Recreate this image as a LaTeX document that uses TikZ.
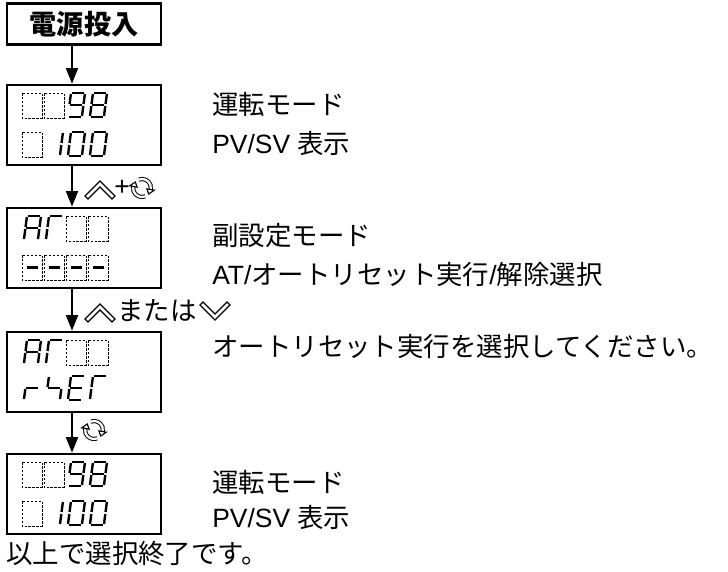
\documentclass[tikz,border=0pt]{standalone}
\usepackage{fontspec}
\setmainfont{Liberation Sans}
\newfontfamily\jp{Noto Sans CJK JP}
\usetikzlibrary{arrows.meta}

\newcommand{\segcell}[3]{%
  \begin{scope}[shift={(#1,#2)}, xslant=0.13]
    \coordinate (sa1) at (1,0);   \coordinate (sa2) at (13,0);
    \coordinate (sb1) at (14,1);  \coordinate (sb2) at (14,11);
    \coordinate (sc1) at (14,13); \coordinate (sc2) at (14,23);
    \coordinate (sd1) at (1,24);  \coordinate (sd2) at (13,24);
    \coordinate (se1) at (0,13);  \coordinate (se2) at (0,23);
    \coordinate (sf1) at (0,1);   \coordinate (sf2) at (0,11);
    \coordinate (sg1) at (1,12);  \coordinate (sg2) at (13,12);
    \foreach \s in {#3} {\draw[segline] (s\s1) -- (s\s2);}
  \end{scope}}
\newcommand{\blankcell}[2]{\draw[blank] (#1,#2) rectangle ++(20,25);}
\newcommand{\dashcell}[2]{\blankcell{#1}{#2}
  \draw[segline] (#1+4.5,#2+12.5) -- ++(11,0);}
\newcommand{\upkey}[2]{\draw[keyline] (#1-15,#2+6) -- (#1,#2-9) -- (#1+15,#2+6)
  -- (#1+12,#2+9) -- (#1,#2-3) -- (#1-12,#2+9) -- cycle;}
\newcommand{\downkey}[2]{\draw[keyline] (#1-15,#2-6) -- (#1,#2+9) -- (#1+15,#2-6)
  -- (#1+12,#2-9) -- (#1,#2+3) -- (#1-12,#2-9) -- cycle;}
\newcommand{\rotkey}[2]{%
  \draw[rotline] (#1,#2) ++(70:9) arc[start angle=70, end angle=192, radius=9];
  \draw[rotline] (#1,#2) ++(250:9) arc[start angle=250, end angle=372, radius=9];
  \draw[keyline] (#1,#2) +(190:5) -- +(190:12.5) -- +(222:9) -- cycle;
  \draw[keyline] (#1,#2) +(10:5) -- +(10:12.5) -- +(42:9) -- cycle;}

\begin{document}
\begin{tikzpicture}[x=0.025cm, y=-0.025cm,
          every node/.style={font=\fontsize{18.8}{22}\selectfont},
          panel/.style={draw, line width=1.9pt, minimum width=3.85cm, minimum height=2cm, inner sep=0pt},
          label/.style={anchor=west, inner sep=0pt},
          flow/.style={line width=1.3pt, -{Triangle[length=11pt, width=8.5pt]}},
          segline/.style={line width=1.7pt},
          blank/.style={line width=0.5pt, dash pattern=on 1.8pt off 1pt},
          keyline/.style={line width=0.8pt, fill=white, line join=miter},
          rotline/.style={double, double distance=1.6pt, line width=0.7pt}]
          \useasboundingbox (0,0) rectangle (728,571);
          \coordinate (ax) at (72,0);

          \node[panel, minimum height=1.025cm, font=\fontsize{19.3}{22}\selectfont\jp\bfseries] (pwr) at (84,24) {電源投入};
          \node[panel] (disp1) at (84,125) {};
          \node[panel] (disp2) at (84,248) {};
          \node[panel] (disp3) at (84,372) {};
          \node[panel] (disp4) at (84,494) {};

          \draw[flow] (pwr.south -| ax) -- (disp1.north -| ax);
          \draw[flow] (disp1.south -| ax) -- (disp2.north -| ax);
          \draw[flow] (disp2.south -| ax) -- (disp3.north -| ax);
          \draw[flow] (disp3.south -| ax) -- (disp4.north -| ax);

          \blankcell{22}{93} \blankcell{44}{93}
          \segcell{71}{93}{a,b,c,d,f,g} \segcell{93}{93}{a,b,c,d,e,f,g}
          \blankcell{22}{132}
          \segcell{49}{132}{b,c} \segcell{71}{132}{a,b,c,d,e,f} \segcell{93}{132}{a,b,c,d,e,f}

          \segcell{27}{216}{a,b,c,e,f,g} \segcell{49}{216}{a,e,f}
          \blankcell{66}{216} \blankcell{88}{216}
          \dashcell{22}{255} \dashcell{44}{255} \dashcell{66}{255} \dashcell{88}{255}

          \segcell{27}{340}{a,b,c,e,f,g} \segcell{49}{340}{a,e,f}
          \blankcell{66}{340} \blankcell{88}{340}
          \segcell{27}{376}{e,g} \segcell{49}{376}{f,g,c}
          \segcell{71}{376}{a,d,e,f,g} \segcell{93}{376}{a,e,f}

          \blankcell{22}{462} \blankcell{44}{462}
          \segcell{71}{462}{a,b,c,d,f,g} \segcell{93}{462}{a,b,c,d,e,f,g}
          \blankcell{22}{501}
          \segcell{49}{501}{b,c} \segcell{71}{501}{a,b,c,d,e,f} \segcell{93}{501}{a,b,c,d,e,f}

          \upkey{100}{190}
          \node[label] (plus) at (114,188) {+};
          \rotkey{142}{188}
          \upkey{100}{313}
          \node[label] (or) at (117,311) {\jp または};
          \downkey{215}{311}
          \rotkey{94}{430}

          \node[label] (mode1) at (212,104) {\jp 運転モード};
          \node[label] (pv1) at (212,143) {PV/SV {\jp 表示}};
          \node[label] (sub) at (212,236) {\jp 副設定モード};
          \node[label] (atsel) at (212,274) {AT/{\jp オートリセット実行}/{\jp 解除選択}};
          \node[label] (pick) at (212,346) {\jp オートリセット実行を選択してください。};
          \node[label] (mode2) at (212,482) {\jp 運転モード};
          \node[label] (pv2) at (212,517) {PV/SV {\jp 表示}};
          \node[label] (done) at (6,554) {\jp 以上で選択終了です。};
        \end{tikzpicture}
\end{document}
